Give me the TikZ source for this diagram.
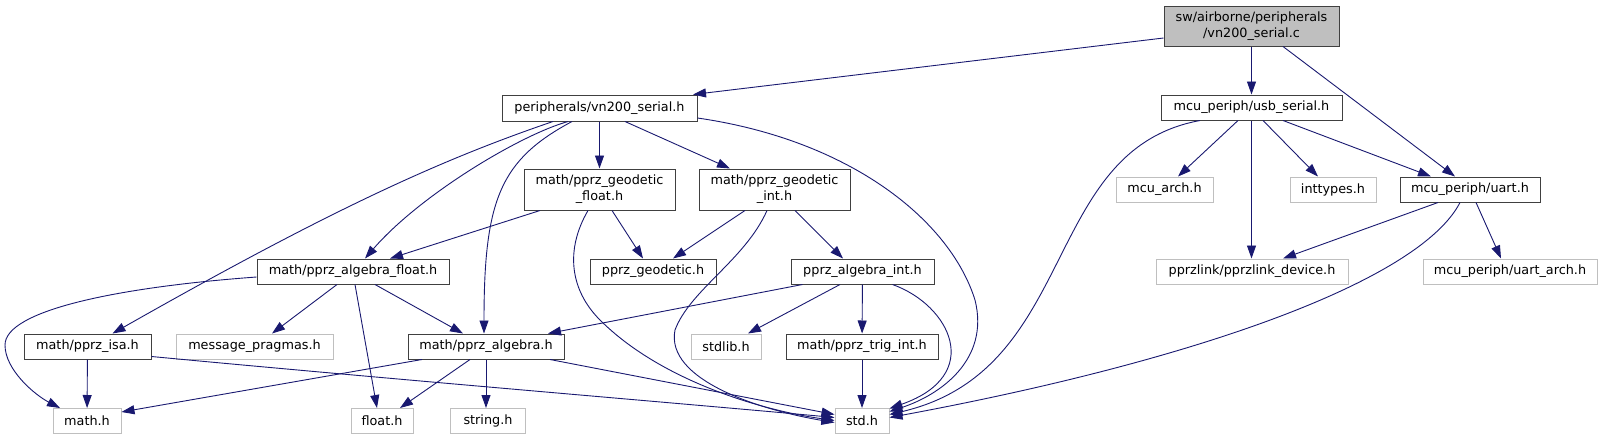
\documentclass[tikz,border=0pt]{standalone}
\usepackage{fontspec}
\setmainfont{DejaVu Sans}
\usetikzlibrary{arrows.meta}

\definecolor{edgeblue}{HTML}{191970}
\definecolor{boxdark}{HTML}{404040}
\definecolor{boxlight}{HTML}{BFBFBF}

\begin{document}
\begin{tikzpicture}[x=1pt, y=-1pt,
  font=\fontsize{12.8}{16}\selectfont,
  hdr/.style={draw=boxdark, line width=1pt, fill=white, inner sep=0pt,
    minimum height=25pt, align=center},
  sys/.style={hdr, draw=boxlight},
  srcfile/.style={hdr, fill=boxlight},
  dep/.style={color=edgeblue, line width=0.9pt,
    -{Triangle[length=13pt,width=9pt]}}]
\useasboundingbox (0,0) rectangle (1603,440);

% Source file
\node[srcfile, minimum width=175pt, minimum height=40pt] (main) at (1251.5,26)
  {sw/airborne/peripherals\\/vn200\_serial.c};

% Row 1
\node[hdr, minimum width=195pt, minimum height=26pt] (vnser) at (599.5,108) {peripherals/vn200\_serial.h};
\node[hdr, minimum width=181pt] (usb) at (1251.5,107.5) {mcu\_periph/usb\_serial.h};

% Row 2
\node[hdr, minimum width=151pt, minimum height=41pt] (geofloat) at (599.5,189.5) {math/pprz\_geodetic\\\_float.h};
\node[hdr, minimum width=151pt, minimum height=41pt] (geoint) at (774.5,189.5) {math/pprz\_geodetic\\\_int.h};
\node[sys, minimum width=97pt] (mcuarch) at (1164.5,189.5) {mcu\_arch.h};
\node[sys, minimum width=86pt] (inttypes) at (1333,189.5) {inttypes.h};
\node[hdr, minimum width=140pt] (uart) at (1470,189.5) {mcu\_periph/uart.h};

% Row 3
\node[hdr, minimum width=192pt] (algfloat) at (353,271.5) {math/pprz\_algebra\_float.h};
\node[hdr, minimum width=126pt] (geodetic) at (653,271.5) {pprz\_geodetic.h};
\node[hdr, minimum width=143pt] (algint) at (862.5,271.5) {pprz\_algebra\_int.h};
\node[sys, minimum width=192pt] (pprzlink) at (1252,271.5) {pprzlink/pprzlink\_device.h};
\node[sys, minimum width=174pt] (uartarch) at (1510,271.5) {mcu\_periph/uart\_arch.h};

% Row 4
\node[hdr, minimum width=127pt] (isa) at (87.5,346.5) {math/pprz\_isa.h};
\node[sys, minimum width=157pt] (pragmas) at (254.5,346.5) {message\_pragmas.h};
\node[hdr, minimum width=156pt] (algebra) at (486,346.5) {math/pprz\_algebra.h};
\node[sys, minimum width=70pt] (stdlib) at (726,346.5) {stdlib.h};
\node[hdr, minimum width=152pt] (trigint) at (862,346.5) {math/pprz\_trig\_int.h};

% Row 5
\node[sys, minimum width=68pt] (mathh) at (87,421) {math.h};
\node[sys, minimum width=62pt] (floath) at (382,421) {float.h};
\node[sys, minimum width=75pt] (stringh) at (488,421) {string.h};
\node[sys, minimum width=54pt] (stdh) at (862,421) {std.h};

% Includes of the source file
\draw[dep] ([yshift=-12pt]main.west) -- ([xshift=93.5pt]vnser.north);
\draw[dep] (main) -- (usb);
\draw[dep] ([xshift=31.5pt]main.south) -- ([xshift=-15pt]uart.north);

% peripherals/vn200_serial.h
\draw[dep] ([xshift=-46.5pt]vnser.south) .. controls (440,160) and (330,210) .. ([xshift=25pt]isa.north);
\draw[dep] ([xshift=-31.5pt]vnser.south) .. controls (520,135) and (420,195) .. ([xshift=12pt]algfloat.north);
\draw[dep] ([xshift=-27.5pt]vnser.south) .. controls (500,160) and (484,200) .. ([xshift=-2pt]algebra.north);
\draw[dep] (vnser) -- (geofloat);
\draw[dep] ([xshift=25.5pt]vnser.south) -- ([xshift=-44.5pt]geoint.north);
\draw[dep] ([yshift=-10pt]vnser.east) .. controls (850,140) and (950,220) .. (975,300)
  .. controls (990,360) and (940,395) .. ([yshift=9.5pt]stdh.east);

% math/pprz_geodetic_float.h
\draw[dep] ([xshift=-59.5pt]geofloat.south) -- ([xshift=37pt]algfloat.north);
\draw[dep] ([xshift=12.5pt]geofloat.south) -- ([xshift=-10pt]geodetic.north);
\draw[dep] ([xshift=-11.5pt]geofloat.south) .. controls (565,250) and (570,290) .. (600,320)
  .. controls (660,380) and (760,410) .. ([yshift=0.5pt]stdh.west);

% math/pprz_geodetic_int.h
\draw[dep] ([xshift=-29.5pt]geoint.south) -- ([xshift=20pt]geodetic.north);
\draw[dep] ([xshift=20.5pt]geoint.south) -- ([xshift=-19.5pt]algint.north);
\draw[dep] ([xshift=-7.5pt]geoint.south) .. controls (745,260) and (690,290) .. (675,330)
  .. controls (665,380) and (760,410) .. ([yshift=-1.5pt]stdh.west);

% pprz_algebra_int.h
\draw[dep] ([xshift=-60pt]algint.south) -- ([xshift=62pt]algebra.north);
\draw[dep] ([xshift=-22.5pt]algint.south) -- ([xshift=22pt]stdlib.north);
\draw[dep] (algint) -- (trigint);
\draw[dep] ([xshift=30pt]algint.south) .. controls (950,305) and (985,375) .. ([yshift=12.5pt]stdh.east);
\draw[dep] (trigint) -- (stdh);

% math/pprz_algebra_float.h
\draw[dep] ([yshift=-5.5pt]algfloat.west) .. controls (120,287) and (5,310) .. (5,345)
  .. controls (5,370) and (35,395) .. ([xshift=-27pt]mathh.north);
\draw[dep] ([xshift=-16pt]algfloat.south) -- ([xshift=17.5pt]pragmas.north);
\draw[dep] ([xshift=2pt]algfloat.south) -- ([xshift=-5pt]floath.north);
\draw[dep] ([xshift=22pt]algfloat.south) -- ([xshift=-23pt]algebra.north);

% math/pprz_isa.h
\draw[dep] (isa) -- (mathh);
\draw[dep] ([yshift=-10pt]isa.east) .. controls (400,380) and (700,405) .. ([yshift=3.5pt]stdh.west);

% math/pprz_algebra.h
\draw[dep] ([xshift=-64pt]algebra.south) -- ([yshift=9pt]mathh.east);
\draw[dep] ([xshift=-16pt]algebra.south) -- ([xshift=18pt]floath.north);
\draw[dep] (algebra.south) -- (algebra.south |- stringh.north);
\draw[dep] ([xshift=64pt]algebra.south) -- ([yshift=6.5pt]stdh.west);

% mcu_periph/usb_serial.h
\draw[dep] ([xshift=-51.5pt]usb.south) .. controls (1040,150) and (1080,370) .. ([yshift=6.5pt]stdh.east);
\draw[dep] ([xshift=-13.5pt]usb.south) -- ([xshift=13.5pt]mcuarch.north);
\draw[dep] (usb.south) -- (usb.south |- pprzlink.north);
\draw[dep] ([xshift=11.5pt]usb.south) -- ([xshift=-15pt]inttypes.north);
\draw[dep] ([xshift=31.5pt]usb.south) -- ([xshift=-39pt]uart.north);

% mcu_periph/uart.h
\draw[dep] ([xshift=-32pt]uart.south) -- ([xshift=31pt]pprzlink.north);
\draw[dep] ([xshift=-10pt]uart.south) .. controls (1420,280) and (1200,360) .. ([yshift=3.5pt]stdh.east);
\draw[dep] ([xshift=6pt]uart.south) -- ([xshift=-9pt]uartarch.north);
\end{tikzpicture}
\end{document}
